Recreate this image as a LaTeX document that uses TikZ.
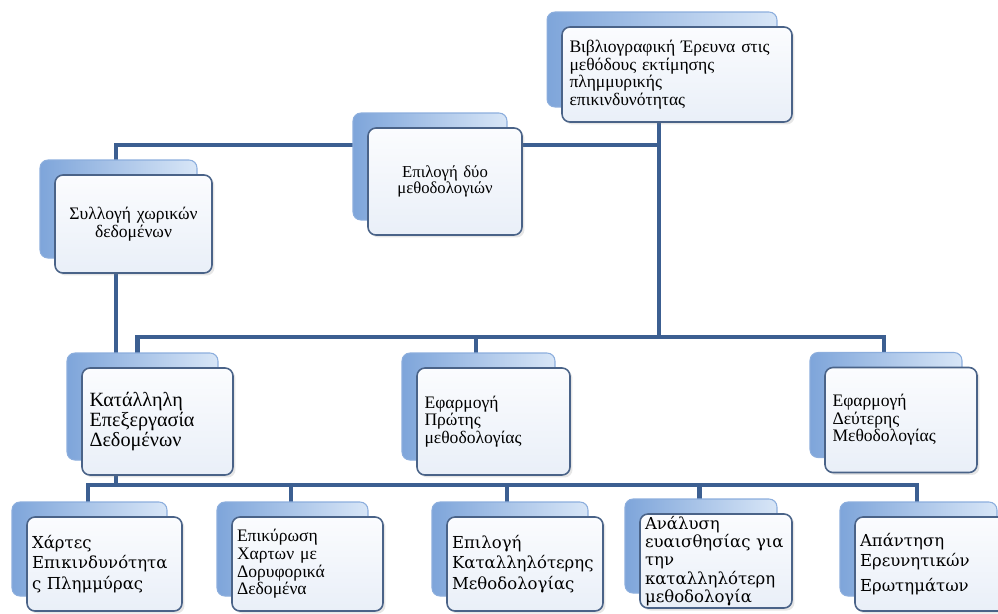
\documentclass[tikz,border=0pt]{standalone}
\usepackage{fontspec}
\setmainfont{Liberation Serif}
\newfontfamily\lowfont{DejaVu Serif}
\usepackage{tikz}
\usetikzlibrary{
	shadows,
	backgrounds
}

\definecolor{linkblue}{HTML}{3C5F91}
\definecolor{cardline}{HTML}{4A6388}
\definecolor{cardtop}{HTML}{FBFCFE}
\definecolor{cardbot}{HTML}{E9EFF8}
\definecolor{tabdark}{HTML}{7EA5DA}
\definecolor{tablight}{HTML}{D8E6F7}
\definecolor{tabline}{HTML}{8CAEDD}

\tikzset{
	card/.style={draw=cardline, line width=.9pt, rounded corners=4.5pt,
		top color=cardtop, bottom color=cardbot,
		general shadow={shadow xshift=-.3cm, shadow yshift=.3cm,
			left color=tabdark, right color=tablight, draw=tabline, line width=.6pt},
		drop shadow={opacity=.2, shadow xshift=.05cm, shadow yshift=-.05cm},
		inner xsep=.15cm, inner ysep=0pt, align=left,
		font=\fontsize{10}{10}\selectfont},
	low/.style={card, inner xsep=.1cm, minimum height=1.88cm,
		font=\lowfont\fontsize{9.4}{11.5}\selectfont},
	link/.style={draw=linkblue, line width=2.3pt}
}

\begin{document}
\begin{tikzpicture}[x=.02cm, y=-.02cm]
	\useasboundingbox (0,0) rectangle (998,613);
	\clip (0,0) rectangle (998,613);

	% upper part
	\node [card, text width=4.3cm, minimum height=1.9cm]  (biblio)  at (677,74.5)
		{Βιβλιογραφική Έρευνα στις\\μεθόδους εκτίμησης\\πλημμυρικής\\επικινδυνότητας};
	\node [card, align=center, text width=2.78cm, minimum height=2.14cm,
		font=\fontsize{9.5}{9.5}\selectfont]                (choose)  at (445,181.5)
		{Επιλογή δύο\\μεθοδολογιών};
	\node [card, align=center, text width=2.84cm, minimum height=1.96cm] (collect) at (133.5,224)
		{Συλλογή χωρικών\\δεδομένων};

	% middle row
	\node [card, text width=2.72cm, minimum height=2.14cm,
		font=\fontsize{11.5}{11.5}\selectfont]              (process) at (157.5,421.5)
		{Κατάλληλη\\Επεξεργασία\\Δεδομένων};
	\node [card, text width=2.76cm, minimum height=2.14cm] (first)   at (493.5,421.5)
		{Εφαρμογή\\Πρώτης\\μεθοδολογίας};
	\node [card, text width=2.74cm, minimum height=2.1cm]  (second)  at (901,420)
		{Εφαρμογή\\Δεύτερης\\Μεθοδολογίας};

	% bottom row
	\node [low, text width=2.9cm]  (maps)   at (104.5,564) {Χάρτες\\Επικινδυνότητα\\ς Πλημμύρας};
	\node [card, inner xsep=.1cm, text width=2.82cm, minimum height=1.88cm]
	                               (valid)  at (307.5,564) {Επικύρωση\\Χαρτων με\\Δορυφορικά\\Δεδομένα};
	\node [low, text width=2.92cm] (select) at (525,564)   {Επιλογή\\Καταλληλότερης\\Μεθοδολογίας};
	\node [low, text width=2.84cm, font=\lowfont\fontsize{9.4}{10.4}\selectfont]
	                               (sens)   at (716,561)   {Ανάλυση\\ευαισθησίας για\\την\\καταλληλότερη\\μεθοδολογία};
	\node [low, text width=2.94cm] (answer) at (933.5,564) {Απάντηση\\Ερευνητικών\\[3pt]Ερωτημάτων};

	\coordinate (up)  at (659,145);
	\coordinate (mid) at (659,337);
	\coordinate (low) at (116,485);

	\begin{scope}[on background layer]
		\draw [link]
			(biblio.south -| up) -- (mid)
			(up) -| (collect.north -| low)
			(collect.south -| low) -- (process.north -| low)
			(mid) -| ([xshift=-.4cm]process.north)
			(mid) -| ([xshift=-.35cm]first.north)
			(mid) -| ([xshift=-.34cm]second.north)
			(process.south -| low) -- (low)
			(low) -| ([xshift=-.33cm]maps.north)
			(low) -| ([xshift=-.33cm]valid.north)
			(low) -| ([xshift=-.36cm]select.north)
			(low) -| ([xshift=-.33cm]sens.north)
			(low) -| ([xshift=-.33cm]answer.north)
		;
	\end{scope}
\end{tikzpicture}
\end{document}
